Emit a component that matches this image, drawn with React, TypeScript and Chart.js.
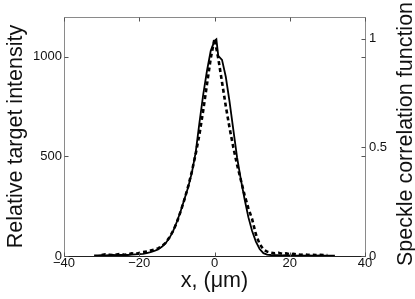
import React, { useEffect, useRef } from "react";
import { Chart, registerables } from "chart.js";

Chart.register(...registerables);

const intensityX = [
  -32, -31, -30, -29, -28, -27, -26, -25, -24, -23, -22, -21, -20, -19, -18, -17, -16, -15, -14, -13, -12, -11,
  -10, -9, -8, -7, -6, -5, -4, -3, -2, -1, 0, 0.5, 1, 2, 3, 4, 5, 6, 7, 8, 9, 10, 11, 12, 13, 14, 15, 16, 17, 18,
  19, 20, 21, 22, 23, 24, 25, 26, 27, 28, 29, 30, 31, 32,
];
const intensityY = [
  3, 3, 4, 3, 4, 5, 4, 5, 6, 5, 7, 8, 9, 11, 14, 19, 25, 33, 46, 64, 90, 125,
  172, 225, 285, 345, 420, 520, 670, 810, 930, 1030, 1080, 1088, 1005, 985, 900, 775, 635, 495, 385, 285, 195, 125, 72, 35, 14, 7, 5, 4, 4, 3,
  4, 3, 3, 2, 3, 2, 3, 2, 2, 3, 2, 2, 2, 2,
];

const corrX = [
  -30, -29, -28, -27, -26, -25, -24, -23, -22, -21, -20, -19, -18, -17, -16, -15, -14, -13, -12, -11, -10, -9, -8,
  -7, -6, -5, -4, -3, -2, -1, 0, 1, 2, 3, 4, 5, 6, 7, 8, 9, 10, 11, 12, 13, 14, 15, 16, 17, 18, 19, 20, 21, 22, 23,
  24, 25, 26, 27, 28, 29, 30,
];
const corrY = [
  0.005, 0.008, 0.006, 0.004, 0.007, 0.009, 0.006, 0.008, 0.012, 0.01, 0.014, 0.018, 0.02, 0.025, 0.03, 0.035, 0.045, 0.06, 0.085, 0.115, 0.155, 0.205, 0.26,
  0.32, 0.39, 0.47, 0.56, 0.67, 0.79, 0.91, 1.0, 0.91, 0.8, 0.69, 0.59, 0.5, 0.42, 0.35, 0.28, 0.22, 0.17, 0.1, 0.055, 0.03, 0.02, 0.015, 0.012, 0.015, 0.01, 0.012, 0.008, 0.01,
  0.007, 0.006, 0.008, 0.005, 0.006, 0.004, 0.005, 0.004, 0.004,
];

const xTicks = [-40, -20, 0, 20, 40];
const leftTicks = [0, 500, 1000];
const rightTicks = [0, 0.5, 1];

const xTitle = "x, (μm)";
const leftTitle = "Relative target intensity";
const rightTitle = "Speckle correlation function";

const FONT = "'Liberation Sans', Arial, Helvetica, sans-serif";
const TITLE_SIZE = 21.5;

export default function App() {
  const ref = useRef<HTMLCanvasElement | null>(null);

  useEffect(() => {
    const canvas = ref.current;
    if (!canvas) return;

    const framePlugin = {
      id: "frame",
      afterDraw(chart: any) {
        const { ctx, chartArea: a, scales } = chart;
        const L = Math.round(a.left) + 0.5;
        const R = Math.round(a.right) + 0.5;
        const T = Math.round(a.top) + 0.5;
        const B = Math.round(a.bottom) + 0.5;
        ctx.save();
        ctx.lineWidth = 1;
        ctx.strokeStyle = "#8a8a8a";
        ctx.beginPath();
        ctx.moveTo(L, B);
        ctx.lineTo(L, T);
        ctx.lineTo(R, T);
        ctx.lineTo(R, B);
        ctx.stroke();
        ctx.strokeStyle = "#222";
        ctx.beginPath();
        ctx.moveTo(L, B);
        ctx.lineTo(R, B);
        ctx.stroke();
        const tl = 4;
        ctx.strokeStyle = "#555";
        ctx.beginPath();
        for (const v of xTicks) {
          const px = Math.round(scales.x.getPixelForValue(v)) + 0.5;
          ctx.moveTo(px, B);
          ctx.lineTo(px, B - tl);
          ctx.moveTo(px, T);
          ctx.lineTo(px, T + tl);
        }
        for (const v of leftTicks) {
          const py = Math.round(scales.y.getPixelForValue(v)) + 0.5;
          ctx.moveTo(L, py);
          ctx.lineTo(L + tl, py);
          ctx.moveTo(R, py);
          ctx.lineTo(R - tl, py);
        }
        for (const v of rightTicks) {
          const py = Math.round(scales.y2.getPixelForValue(v)) + 0.5;
          ctx.moveTo(R, py);
          ctx.lineTo(R - tl, py);
        }
        ctx.stroke();
        ctx.fillStyle = "#111";
        ctx.font = `${TITLE_SIZE}px ${FONT}`;
        ctx.textAlign = "center";
        ctx.textBaseline = "middle";
        ctx.translate(406, 134);
        ctx.rotate(-Math.PI / 2);
        ctx.fillText(rightTitle, 0, 0);
        ctx.restore();
      },
    };

    const chart = new Chart(canvas, {
      type: "line",
      data: {
        datasets: [
          {
            label: "intensity",
            data: intensityX.map((x, i) => ({ x, y: intensityY[i] })),
            yAxisID: "y",
            borderColor: "#000",
            borderWidth: 1.8,
            pointRadius: 0,
            tension: 0,
            fill: false,
          },
          {
            label: "correlation",
            data: corrX.map((x, i) => ({ x, y: corrY[i] })),
            yAxisID: "y2",
            borderColor: "#000",
            borderWidth: 2.6,
            borderDash: [4, 3],
            pointRadius: 0,
            tension: 0,
            fill: false,
          },
        ],
      },
      options: {
        animation: false,
        responsive: false,
        maintainAspectRatio: false,
        layout: { padding: { top: 17, left: 0, right: 0, bottom: 0 } },
        plugins: { legend: { display: false }, tooltip: { enabled: false } },
        scales: {
          x: {
            type: "linear",
            min: -40,
            max: 40,
            grid: { display: false, drawTicks: false },
            border: { display: false },
            afterBuildTicks: (s: any) => {
              s.ticks = xTicks.map((v) => ({ value: v }));
            },
            afterFit: (s: any) => {
              s.height = 43;
            },
            ticks: {
              padding: 0,
              color: "#111",
              font: { family: FONT, size: 13 },
              callback: (v: any) => (Number(v) < 0 ? "\u2212" + Math.abs(Number(v)) : String(v)),
            },
            title: {
              display: true,
              text: xTitle,
              color: "#111",
              font: { family: FONT, size: TITLE_SIZE },
              padding: { top: 0, bottom: 5 },
            },
          },
          y: {
            type: "linear",
            position: "left",
            min: 0,
            max: 1200,
            grid: { display: false, drawTicks: false },
            border: { display: false },
            afterBuildTicks: (s: any) => {
              s.ticks = leftTicks.map((v) => ({ value: v }));
            },
            afterFit: (s: any) => {
              s.width = 64;
            },
            ticks: {
              padding: 2,
              color: "#111",
              font: { family: FONT, size: 13 },
              callback: (v: any) => String(v),
            },
            title: {
              display: true,
              text: leftTitle,
              color: "#111",
              font: { family: FONT, size: TITLE_SIZE },
              padding: { top: 3, bottom: 0 },
            },
          },
          y2: {
            type: "linear",
            position: "right",
            min: 0,
            max: 1.1,
            grid: { display: false, drawTicks: false },
            border: { display: false },
            afterBuildTicks: (s: any) => {
              s.ticks = rightTicks.map((v) => ({ value: v }));
            },
            afterFit: (s: any) => {
              s.width = 50;
            },
            ticks: {
              padding: 4,
              color: "#111",
              font: { family: FONT, size: 13 },
              callback: (v: any) => String(v),
            },
          },
        },
      },
      plugins: [framePlugin],
    });

    return () => chart.destroy();
  }, []);

  return (
    <div style={{ position: "fixed", left: 0, top: 0, width: 415, height: 299, background: "#fff" }}>
      <canvas ref={ref} width={415} height={299} style={{ display: "block" }} />
    </div>
  );
}
